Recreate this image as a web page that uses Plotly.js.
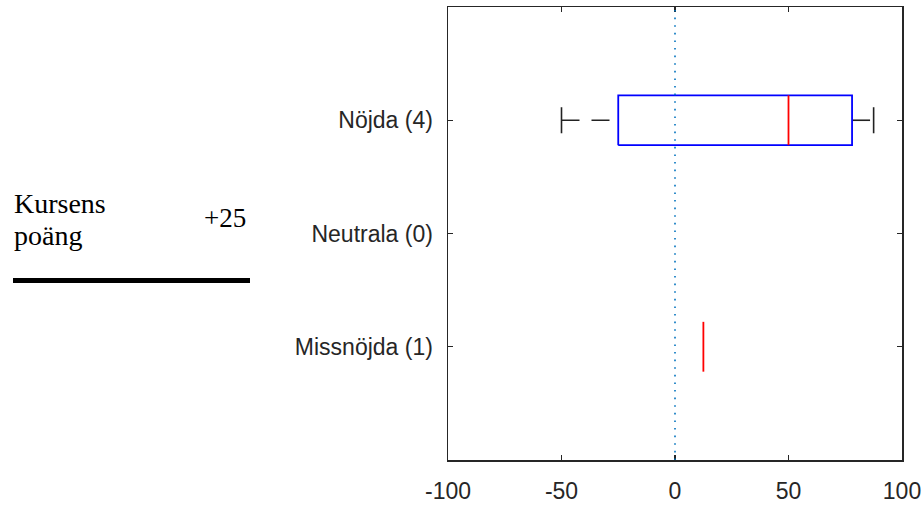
<!DOCTYPE html>
<html>
<head>
<meta charset="utf-8">
<script src="https://cdn.plot.ly/plotly-3.0.1.min.js"></script>
<style>html,body{margin:0;padding:0;background:#fff;}#chart{width:922px;height:506px;}</style>
</head>
<body>
<div id="chart"></div>
<script>
// ---- data ----
const categories = ['Nöjda (4)', 'Neutrala (0)', 'Missnöjda (1)'];
const positions  = [3, 2, 1];
const q1Values     = [-25, null, 12.5];
const medianValues = [50, null, 12.5];
const q3Values     = [78, null, 12.5];
const lowerWhisker = [-50, null, 12.5];
const upperWhisker = [87.5, null, 12.5];
const xTickValues  = [-100, -50, 0, 50, 100];
const referenceX   = 0;

// ---- build box-plot parts in data coordinates ----
const half = 0.22, capHalf = 0.115;
const wx = [], wy = [], cx = [], cy = [], bx = [], by = [], mx = [], my = [];
categories.forEach((c, i) => {
  const p = positions[i];
  if (medianValues[i] === null) return;
  const lo = lowerWhisker[i], hi = upperWhisker[i], a = q1Values[i], b = q3Values[i], m = medianValues[i];
  if (hi > lo) {
    wx.push(lo, a, null, b, hi, null); wy.push(p, p, null, p, p, null);
    cx.push(lo, lo, null, hi, hi, null); cy.push(p - capHalf, p + capHalf, null, p - capHalf, p + capHalf, null);
  }
  if (b > a) {
    bx.push(a, b, b, a, a, null); by.push(p - half, p - half, p + half, p + half, p - half, null);
  }
  mx.push(m, m, null); my.push(p - half, p + half, null);
});

const traces = [
  {type: 'scatter', mode: 'lines', x: wx, y: wy, line: {color: '#222', width: 1.6, dash: '18px,12px'}, hoverinfo: 'skip'},
  {type: 'scatter', mode: 'lines', x: cx, y: cy, line: {color: '#222', width: 1.6}, hoverinfo: 'skip'},
  {type: 'scatter', mode: 'lines', x: bx, y: by, line: {color: '#0000FF', width: 1.8}, hoverinfo: 'skip'},
  {type: 'scatter', mode: 'lines', x: mx, y: my, line: {color: '#FF0000', width: 1.8}, hoverinfo: 'skip'}
];

const PL = 448, PR = 902, PT = 7, PB = 460;
const px = v => (v - PL) / (PR - PL);
const py = v => (PB - v) / (PB - PT);
const serif = {family: '"Liberation Serif", "Times New Roman", serif', size: 28, color: '#000'};

const layout = {
  width: 922, height: 506,
  margin: {l: PL, r: 922 - PR, t: PT, b: 506 - PB, pad: 0},
  paper_bgcolor: '#fff', plot_bgcolor: '#fff',
  showlegend: false, hovermode: false,
  font: {family: '"Liberation Sans", Arial, sans-serif', size: 23, color: '#262626'},
  xaxis: {
    range: [-100, 100], tickmode: 'array', tickvals: xTickValues,
    ticktext: xTickValues.map(String),
    ticks: 'inside', ticklen: 5, tickwidth: 1.3, tickcolor: '#262626',
    showline: true, linecolor: '#262626', linewidth: 1.5, mirror: 'ticks',
    showgrid: false, zeroline: false, ticklabelstandoff: 10, fixedrange: true
  },
  yaxis: {
    range: [0, 4], tickmode: 'array', tickvals: positions, ticktext: categories,
    ticks: 'inside', ticklen: 5, tickwidth: 1.3, tickcolor: '#262626',
    showline: true, linecolor: '#262626', linewidth: 1.5, mirror: 'ticks',
    showgrid: false, zeroline: false, ticklabelstandoff: 9, fixedrange: true
  },
  shapes: [
    {type: 'line', xref: 'x', yref: 'paper', x0: referenceX, x1: referenceX, y0: 0, y1: 1,
     line: {color: '#0072BD', width: 1.6, dash: '1.6px,6px'}},
    {type: 'line', xref: 'paper', yref: 'paper', x0: px(13), x1: px(250), y0: py(280.5), y1: py(280.5),
     line: {color: '#000', width: 5}}
  ],
  annotations: [
    {xref: 'paper', yref: 'paper', x: px(12), y: py(203), xanchor: 'left', yanchor: 'middle', text: 'Kursens', showarrow: false, font: serif},
    {xref: 'paper', yref: 'paper', x: px(12), y: py(236), xanchor: 'left', yanchor: 'middle', text: 'poäng', showarrow: false, font: serif},
    {xref: 'paper', yref: 'paper', x: px(248), y: py(218), xanchor: 'right', yanchor: 'middle', text: '+25', showarrow: false, font: {family: serif.family, size: 27, color: '#000'}}
  ]
};

Plotly.newPlot('chart', traces, layout, {staticPlot: true, displayModeBar: false});
</script>
</body>
</html>
